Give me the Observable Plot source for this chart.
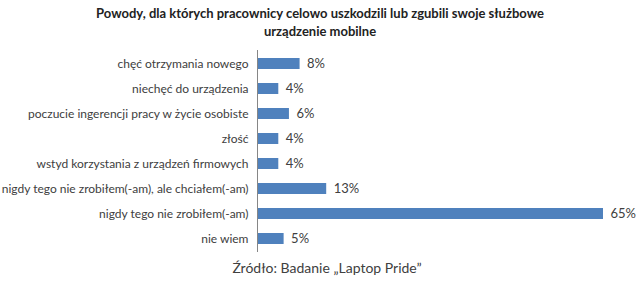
<!DOCTYPE html>
<html><head><meta charset="utf-8">
<script src="https://cdn.jsdelivr.net/npm/d3@7"></script>
<script src="https://cdn.jsdelivr.net/npm/@observablehq/plot@0.6"></script>
<style>
body{margin:0;background:#fff;width:640px;overflow:hidden;font-family:Lato,"Open Sans",sans-serif;}
#title{height:42px;box-sizing:border-box;padding-top:4px;text-align:center;font-weight:bold;font-size:13px;line-height:18px;color:#222;}
#caption{height:27px;box-sizing:border-box;padding-top:3px;text-align:center;font-size:14px;color:#404040;padding-left:14px;}
</style></head><body>
<div id="title">Powody, dla których pracownicy celowo uszkodzili lub zgubili swoje służbowe<br>urządzenie mobilne</div>
<div id="chart"></div>
<div id="caption">Źródło: Badanie „Laptop Pride”</div>
<script>
const categories = [
  "chęć otrzymania nowego",
  "niechęć do urządzenia",
  "poczucie ingerencji pracy w życie osobiste",
  "złość",
  "wstyd korzystania z urządzeń firmowych",
  "nigdy tego nie zrobiłem(-am), ale chciałem(-am)",
  "nigdy tego nie zrobiłem(-am)",
  "nie wiem"
];
const values = [8, 4, 6, 4, 4, 13, 65, 5];
const data = categories.map((c, i) => ({category: c, value: values[i]}));

const chart = Plot.plot({
  width: 640,
  height: 214,
  marginTop: 8,
  marginBottom: 4,
  marginLeft: 257,
  marginRight: 37,
  style: {fontFamily: "Lato, 'Open Sans', sans-serif", fontSize: "12px", color: "#404040", background: "#fff"},
  x: {domain: [0, 65], axis: null},
  y: {domain: categories, paddingInner: 0.56, paddingOuter: 0.25, label: null},
  marks: [
    Plot.barX(data, {x: "value", y: "category", fill: "#4F81BD"}),
    Plot.text(data, {x: "value", y: "category", text: d => d.value + "%", textAnchor: "start", dx: 7, fontSize: 13, fill: "#404040"}),
    Plot.axisY({tickSize: 0, tickPadding: 9, label: null, fontSize: 12, fill: "#404040"}),
    Plot.ruleX([0], {stroke: "#868686"})
  ]
});
document.getElementById("chart").appendChild(chart);
</script>
</body></html>
